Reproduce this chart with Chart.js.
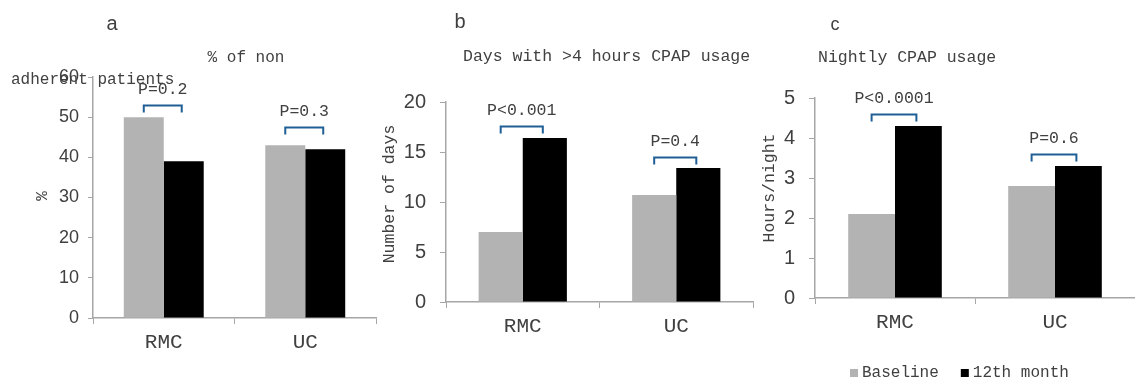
<!DOCTYPE html>
<html>
<head>
<meta charset="utf-8">
<script src="https://cdn.jsdelivr.net/npm/chart.js@4/dist/chart.umd.min.js"></script>
<style>
  body { margin: 0; background: #fff; width: 1135px; height: 380px; position: relative; overflow: hidden; }
  canvas { position: absolute; top: 0; }
</style>
</head>
<body>
<canvas id="chartA" width="380" height="380" style="left:0"></canvas>
<canvas id="chartB" width="380" height="380" style="left:380px"></canvas>
<canvas id="chartC" width="375" height="380" style="left:760px"></canvas>
<script>
// groups and series
const groups = ['RMC', 'UC'];
const seriesNames = ['Baseline', '12th month'];

// a: % of non adherent patients
const nonAdherentBaseline = [50, 43];
const nonAdherentMonth12 = [39, 42];
const nonAdherentP = ['P=0.2', 'P=0.3'];
const nonAdherentBracket = [53, 47.5];
const nonAdherentTicks = { max: 60, step: 10 };

// b: days with >4 hours CPAP usage
const daysBaseline = [7.0, 10.7];
const daysMonth12 = [16.4, 13.4];
const daysP = ['P<0.001', 'P=0.4'];
const daysBracket = [17.6, 14.5];
const daysTicks = { max: 20, step: 5 };

// c: nightly CPAP usage
const hoursBaseline = [2.1, 2.8];
const hoursMonth12 = [4.3, 3.3];
const hoursP = ['P<0.0001', 'P=0.6'];
const hoursBracket = [4.6, 3.6];
const hoursTicks = { max: 5, step: 1 };

const MONO = '"Liberation Mono", monospace';
const SANS = '"Liberation Sans", Arial, sans-serif';
const TEXT = '#404040';
const AXIS = '#a6a6a6';
const BRACKET = '#1f5f96';
const GREY = '#b3b3b3';

// free text: panel letters, titles, rotated axis titles
const panelText = {
  id: 'panelText',
  afterDraw(chart, args, opts) {
    const ctx = chart.ctx;
    (opts.items || []).forEach(it => {
      ctx.save();
      ctx.font = it.font;
      ctx.fillStyle = it.color || TEXT;
      ctx.textAlign = it.align || 'center';
      ctx.textBaseline = 'middle';
      ctx.translate(it.x, it.y);
      if (it.rotate) ctx.rotate(it.rotate);
      ctx.fillText(it.text, 0, 0);
      ctx.restore();
    });
  }
};

// significance brackets between the two bars of each group
const pBrackets = {
  id: 'pBrackets',
  afterDatasetsDraw(chart, args, opts) {
    if (!opts.labels) return;
    const ctx = chart.ctx;
    const y = chart.scales.y;
    const m0 = chart.getDatasetMeta(0), m1 = chart.getDatasetMeta(1);
    opts.labels.forEach((lab, i) => {
      const x1 = m0.data[i].x, x2 = m1.data[i].x - 2;
      const py = Math.round(y.getPixelForValue(opts.levels[i])) + 0.5;
      ctx.save();
      ctx.strokeStyle = BRACKET;
      ctx.lineWidth = 2;
      ctx.beginPath();
      ctx.moveTo(x1, py + 7);
      ctx.lineTo(x1, py);
      ctx.lineTo(x2, py);
      ctx.lineTo(x2, py + 7);
      ctx.stroke();
      ctx.font = '16.5px ' + MONO;
      ctx.fillStyle = TEXT;
      ctx.textAlign = 'center';
      ctx.textBaseline = 'middle';
      ctx.fillText(lab, (x1 + x2) / 2, py - 16);
      ctx.restore();
    });
  }
};

// legend drawn under the last panel
const bottomLegend = {
  id: 'bottomLegend',
  afterDraw(chart, args, opts) {
    if (!opts.display) return;
    const ctx = chart.ctx;
    let x = opts.x;
    ctx.save();
    ctx.font = '16px ' + MONO;
    ctx.textBaseline = 'middle';
    chart.data.datasets.forEach(ds => {
      ctx.fillStyle = ds.backgroundColor;
      ctx.fillRect(x, opts.y - 4, 8, 8);
      ctx.fillStyle = TEXT;
      ctx.fillText(ds.label, x + 12, opts.y);
      x += 12 + ctx.measureText(ds.label).width + 22;
    });
    ctx.restore();
  }
};

function makeChart(id, baseline, month12, ticks, cfg) {
  return new Chart(document.getElementById(id), {
    type: 'bar',
    data: {
      labels: groups,
      datasets: [
        { label: seriesNames[0], data: baseline, backgroundColor: GREY, borderWidth: 0 },
        { label: seriesNames[1], data: month12, backgroundColor: '#000000', borderWidth: 0 }
      ]
    },
    options: {
      responsive: false,
      animation: false,
      layout: { padding: { left: 0, top: cfg.top, right: cfg.right, bottom: 0 } },
      datasets: { bar: { categoryPercentage: cfg.catPct, barPercentage: 1 } },
      scales: {
        x: {
          afterFit: s => { s.height = cfg.xHeight; },
          grid: { drawOnChartArea: false, color: AXIS, tickLength: 6, offset: true },
          border: { color: AXIS, width: 1.5 },
          ticks: { color: TEXT, font: { family: MONO, size: 21 }, padding: 6 }
        },
        y: {
          min: 0, max: ticks.max,
          afterFit: s => { s.width = cfg.left; },
          grid: { drawOnChartArea: false, color: AXIS, tickLength: cfg.tickLen },
          border: { color: AXIS, width: 1.5 },
          ticks: { stepSize: ticks.step, color: TEXT, font: { family: SANS, size: cfg.tickSize }, padding: cfg.tickPad }
        }
      },
      plugins: {
        legend: { display: false },
        tooltip: { enabled: false },
        panelText: { items: cfg.texts },
        pBrackets: { labels: cfg.pLabels, levels: cfg.pLevels },
        bottomLegend: cfg.legend || { display: false }
      }
    },
    plugins: [panelText, pBrackets, bottomLegend]
  });
}

makeChart('chartA', nonAdherentBaseline, nonAdherentMonth12, nonAdherentTicks, {
  left: 93, right: 4, top: 77, xHeight: 62, catPct: 0.565, tickLen: 5, tickSize: 18, tickPad: 9,
  pLabels: nonAdherentP, pLevels: nonAdherentBracket,
  texts: [
    { text: 'a', x: 112, y: 24, font: '20px ' + SANS },
    { text: '% of non', x: 246, y: 58, font: '16px ' + MONO },
    { text: 'adherent patients', x: 11, y: 80, align: 'left', font: '16px ' + MONO },
    { text: '%', x: 43, y: 196, rotate: -Math.PI / 2, font: '16px ' + MONO }
  ]
});

makeChart('chartB', daysBaseline, daysMonth12, daysTicks, {
  left: 66, right: 7, top: 102, xHeight: 78, catPct: 0.575, tickLen: 6, tickSize: 20, tickPad: 14,
  pLabels: daysP, pLevels: daysBracket,
  texts: [
    { text: 'b', x: 80, y: 22, font: '20px ' + SANS },
    { text: 'Days with >4 hours CPAP usage', x: 83, y: 57, align: 'left', font: '16.5px ' + MONO },
    { text: 'Number of days', x: 10, y: 194, rotate: -Math.PI / 2, font: '16.5px ' + MONO }
  ]
});

makeChart('chartC', hoursBaseline, hoursMonth12, hoursTicks, {
  left: 55, right: 0, top: 98, xHeight: 82, catPct: 0.585, tickLen: 6, tickSize: 20, tickPad: 14,
  pLabels: hoursP, pLevels: hoursBracket,
  texts: [
    { text: 'c', x: 75, y: 25, font: '18px ' + SANS },
    { text: 'Nightly CPAP usage', x: 58, y: 58, align: 'left', font: '16.5px ' + MONO },
    { text: 'Hours/night', x: 10, y: 188, rotate: -Math.PI / 2, font: '16.5px ' + MONO }
  ],
  legend: { display: true, x: 90, y: 373 }
});
</script>
</body>
</html>
